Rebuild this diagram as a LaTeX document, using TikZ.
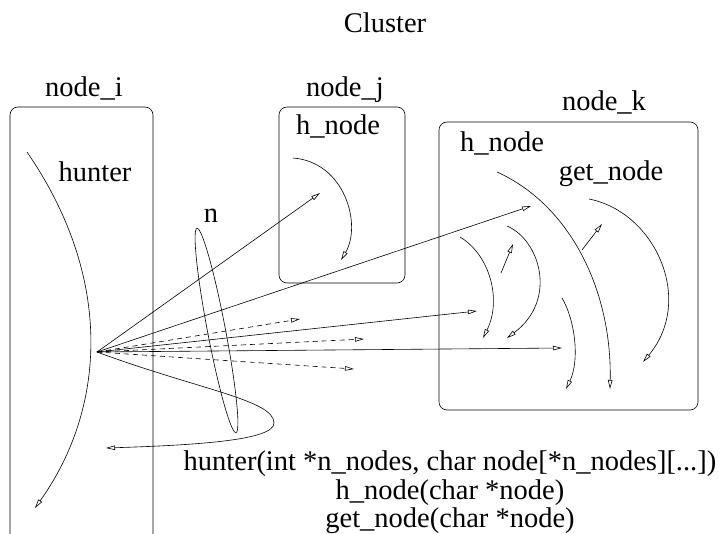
\documentclass[tikz,border=0pt]{standalone}
\usepackage{fontspec}
\setmainfont{Liberation Serif}
\usetikzlibrary{arrows.meta}
\tikzset{
    lbl/.style={inner sep=0pt, anchor=base, font=\fontsize{28.5}{31}\selectfont},
    frame/.style={line width=0.6pt, rounded corners=8pt},
    flow/.style={line width=0.6pt, -{Triangle[open, length=9pt, width=4.5pt]}},
    dflow/.style={flow, dash pattern=on 5pt off 4pt},
}

\begin{document}
\begin{tikzpicture}[x=1pt, y=-1pt]
    \useasboundingbox (0,0) rectangle (719,534);

    % Boxes
    \draw[frame] (10,534) -- (10,107) -- (153,107) -- (153,534);
    \draw[frame] (279,107) rectangle (405,283);
    \draw[frame] (439,122) rectangle (698,410);

    % Labels
    \node[lbl] (title) at (385,33) {Cluster};
    \node[lbl] (nodeI) at (84,97) {node\_i};
    \node[lbl] (nodeJ) at (345,97) {node\_j};
    \node[lbl] (nodeK) at (604,111) {node\_k};
    \node[lbl] (hunter) at (95,182) {hunter};
    \node[lbl] (hnodeJ) at (338,135) {h\_node};
    \node[lbl] (hnodeK) at (502,152) {h\_node};
    \node[lbl] (getnode) at (611,181) {get\_node};
    \node[lbl] (nLbl) at (211,223) {n};

    % Signatures
    \node[lbl] (sigHunter) at (450,470) {hunter(int *n\_nodes, char node[*n\_nodes][...])};
    \node[lbl] (sigHnode) at (450,499) {h\_node(char *node)};
    \node[lbl] (sigGetnode) at (450,527) {get\_node(char *node)};

    % Group of n calls
    \draw[line width=0.6pt, rotate around={10.8:(216.5,330.5)}] (216.5,330.5) ellipse [x radius=9, y radius=104];

    % Calls from hunter
    \coordinate (src) at (97,352);
    \coordinate (tipJ) at (320,193);
    \coordinate (tipK) at (531,206);
    \coordinate (tipA) at (477,311);
    \coordinate (tipB) at (562,348);
    \coordinate (dashA) at (300,319);
    \coordinate (dashB) at (364,339);
    \coordinate (dashC) at (354,369);
    \draw[flow] (src) -- (tipJ);
    \draw[flow] (src) -- (tipK);
    \draw[flow] (src) -- (tipA);
    \draw[flow] (src) -- (tipB);
    \draw[dflow] (src) -- (dashA);
    \draw[dflow] (src) -- (dashB);
    \draw[dflow] (src) -- (dashC);
    \draw[flow] (src) .. controls (200,390) and (274,400) .. (274,423)
        .. controls (274,440) and (200,445) .. (106,448);

    % Execution inside node_i and node_j
    \draw[flow] (27,152) .. controls (115,280) and (105,410) .. (35,508);
    \draw[flow] (293,158) .. controls (345,162) and (362,225) .. (341,260);

    % Execution inside node_k
    \draw[flow] (497,172) .. controls (570,205) and (612,290) .. (610,389);
    \draw[flow] (589,199) .. controls (655,212) and (695,300) .. (643,362);
    \draw[flow] (460,237) .. controls (490,255) and (502,300) .. (483,338);
    \draw[flow] (507,226) .. controls (540,240) and (558,300) .. (507,338);
    \draw[flow] (562,298) .. controls (575,320) and (580,360) .. (566,389);
    \draw[flow] (501,273) -- (513,244);
    \draw[flow] (582,250) -- (602,224);
\end{tikzpicture}
\end{document}
